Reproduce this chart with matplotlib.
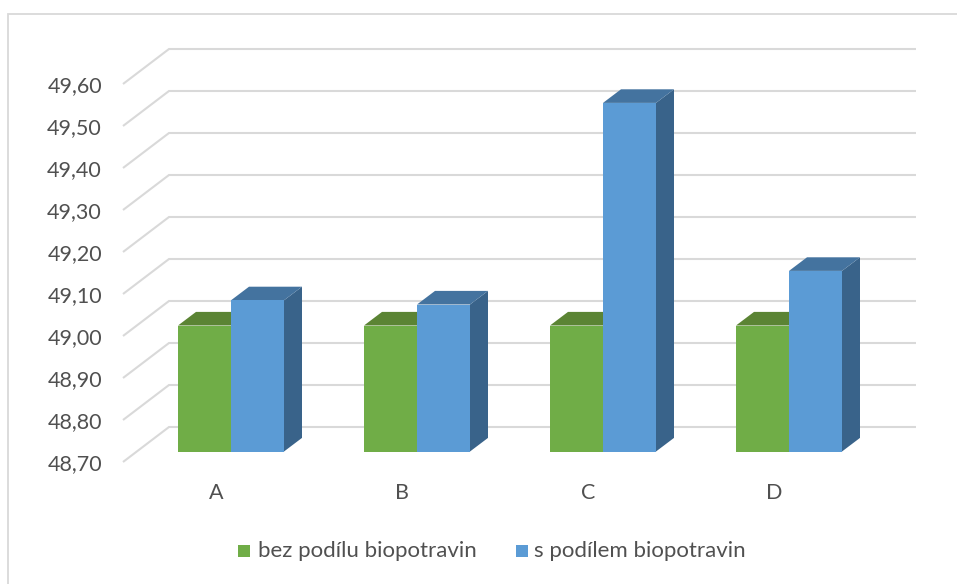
import numpy as np
import matplotlib
matplotlib.use("Agg")
import matplotlib.pyplot as plt
from matplotlib.patches import Polygon, Rectangle

plt.rcParams['font.family'] = ['Lato', 'DejaVu Sans']

# Data
categories = ["A", "B", "C", "D"]
series_names = ["bez podílu biopotravin", "s podílem biopotravin"]
without_bio = [49.00, 49.00, 49.00, 49.00]
with_bio = [49.06, 49.05, 49.53, 49.13]
y_ticks = [48.70, 48.80, 48.90, 49.00, 49.10, 49.20, 49.30, 49.40, 49.50, 49.60]

# Colours
green = "#70ad47"
green_top = "#5b8434"
blue = "#5b9bd5"
blue_top = "#44739f"
blue_side = "#39638a"
grid = "#d9d9d9"
text_col = "#505050"

W, H = 957, 584
PX_PER_UNIT_Y = 420.0
PX_PER_CAT = 186.0

fig = plt.figure(figsize=(W / 100, H / 100), dpi=100)
ax = fig.add_axes([0, 0, 1, 1])
# x: category index, y: value on the plane of the bar fronts
ax.set_xlim((0 - 231) / PX_PER_CAT, (W - 231) / PX_PER_CAT)
ax.set_ylim(48.70 + (451.5 - H) / PX_PER_UNIT_Y, 48.70 + 451.5 / PX_PER_UNIT_Y)
ax.axis("off")


def dx(px):
    return px / PX_PER_CAT


def dy(px):
    return px / PX_PER_UNIT_Y


bar_w = dx(53)
depth_x, depth_y = dx(18), dy(13.6)
base = y_ticks[0]

# Chart frame, only the top and left edges are inside the picture
ax.plot([dx(8.5 - 231), dx(8.5 - 231), dx(W - 231)],
        [base + dy(451.5 - H), base + dy(451.5 - 13.7), base + dy(451.5 - 13.7)],
        color=grid, lw=1.3, zorder=1, solid_joinstyle="miter", clip_on=False)

# Gridlines on the back wall and floor-side ticks
for t in y_ticks:
    xs = [dx(123 - 231), dx(169 - 231), dx(916 - 231)]
    ys = [t - dy(10.5), t + dy(24.5), t + dy(24.5)]
    ax.plot(xs, ys, color=grid, lw=1.5, zorder=2, solid_capstyle="butt", solid_joinstyle="miter")
    ax.text(dx(102 - 231), t - dy(13), f"{t:.2f}".replace(".", ","), ha="right", va="center",
            color=text_col, fontsize=15.5, zorder=5)

# Bars
for i, cat in enumerate(categories):
    v0, v1 = without_bio[i], with_bio[i]
    # green bar: top only, side is hidden by the blue one
    ax.add_patch(Polygon([(i - bar_w, v0), (i, v0), (i + depth_x, v0 + depth_y),
                          (i - bar_w + depth_x, v0 + depth_y)], fc=green_top, ec="none", zorder=3))
    ax.add_patch(Rectangle((i - bar_w, base), bar_w, v0 - base, fc=green, ec="none", zorder=4))
    # blue bar: side, top, front
    right = i + bar_w
    ax.add_patch(Polygon([(right, base), (right + depth_x, base + depth_y),
                          (right + depth_x, v1 + depth_y), (right, v1)],
                         fc=blue_side, ec="none", zorder=4))
    ax.add_patch(Polygon([(i, v1), (right, v1), (right + depth_x, v1 + depth_y),
                          (i + depth_x, v1 + depth_y)], fc=blue_top, ec="none", zorder=4))
    ax.add_patch(Rectangle((i, base), bar_w, v1 - base, fc=blue, ec="none", zorder=5))
    ax.text(i - dx(15), base - dy(41), cat, ha="center", va="center", color=text_col, fontsize=15.5)

# Legend
legend_y = base - dy(99)
for px, tx, name, col in [(238, 258, series_names[0], green), (516, 534, series_names[1], blue)]:
    ax.add_patch(Rectangle((dx(px - 231), legend_y - dy(6)), dx(12), dy(12), fc=col, ec="none"))
    ax.text(dx(tx - 231), legend_y, name, ha="left", va="center", color=text_col, fontsize=16)

fig.savefig("out.png", dpi=100)
